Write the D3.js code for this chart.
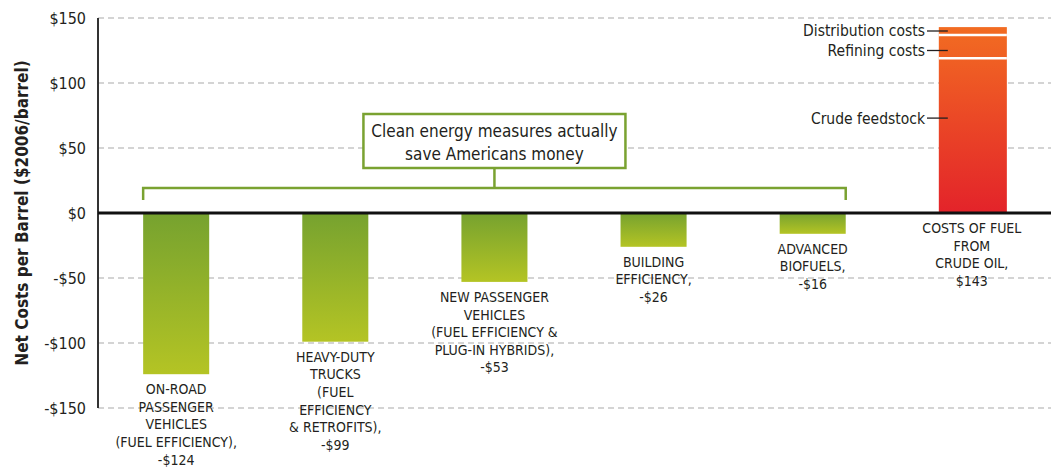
<!DOCTYPE html>
<html><head><meta charset="utf-8">
<script src="https://cdn.jsdelivr.net/npm/d3@7/dist/d3.min.js"></script>
<style>
body{margin:0;background:#fff;}
text{font-family:"Liberation Sans Narrow","DejaVu Sans Condensed","Roboto",sans-serif;fill:#231f20;}
</style></head><body>
<svg id="chart" width="1052" height="476"></svg>
<script>
// ---- data ----
const categories = ["onroad","heavy","newpass","building","biofuels","crude"];
const categoryLabels = [
  ["ON-ROAD","PASSENGER","VEHICLES","(FUEL EFFICIENCY),","-$124"],
  ["HEAVY-DUTY","TRUCKS","(FUEL","EFFICIENCY","& RETROFITS),","-$99"],
  ["NEW PASSENGER","VEHICLES","(FUEL EFFICIENCY &","PLUG-IN HYBRIDS),","-$53"],
  ["BUILDING","EFFICIENCY,","-$26"],
  ["ADVANCED","BIOFUELS,","-$16"],
  ["COSTS OF FUEL","FROM","CRUDE OIL,","$143"]
];
const savingsValues = [-124, -99, -53, -26, -16];
const crudeComponents = ["Crude feedstock","Refining costs","Distribution costs"];
const crudeValues = [119, 18, 6];
const crudeLabelAt = [73, 125, 140];
const yTicks = [-150,-100,-50,0,50,100,150];
const yTickLabels = ["-$150","-$100","-$50","$0","$50","$100","$150"];
const calloutLines = ["Clean energy measures actually","save Americans money"];

// ---- layout ----
const svg = d3.select("#chart");
const axisX = 98, rightX = 1051;
const y = d3.scaleLinear().domain([-150,150]).range([408,18]);
const x = d3.scaleBand().domain(categories).range([97,1051]).paddingInner(0.585).paddingOuter(0.29);

const defs = svg.append("defs");
const gg = defs.append("linearGradient").attr("id","gGreen").attr("x1",0).attr("y1",0).attr("x2",0).attr("y2",1);
gg.append("stop").attr("offset","0%").attr("stop-color","#76a22f");
gg.append("stop").attr("offset","100%").attr("stop-color","#b4c424");
const go = defs.append("linearGradient").attr("id","gOrange").attr("gradientUnits","userSpaceOnUse")
  .attr("x1",0).attr("y1",y(143)).attr("x2",0).attr("y2",y(0));
go.append("stop").attr("offset","0%").attr("stop-color","#f26c22");
go.append("stop").attr("offset","100%").attr("stop-color","#e3232a");

// gridlines
svg.append("g").selectAll("line").data(yTicks.filter(d=>d!==0)).join("line")
  .attr("x1",axisX).attr("x2",rightX).attr("y1",d=>y(d)).attr("y2",d=>y(d))
  .attr("stroke","#aaaaaa").attr("stroke-width",1.2).attr("stroke-dasharray","6,4");

// y tick labels
svg.append("g").selectAll("text").data(yTicks).join("text")
  .attr("x",86).attr("y",d=>y(d)).attr("dy","0.35em").attr("text-anchor","end")
  .attr("font-size",16).text((d,i)=>yTickLabels[i]);

// axis title
svg.append("text").attr("transform",`translate(28,${y(0)}) rotate(-90)`)
  .attr("text-anchor","middle").attr("font-size",17).attr("font-weight","bold")
  .text("Net Costs per Barrel ($2006/barrel)");

// savings bars
svg.append("g").selectAll("rect").data(savingsValues).join("rect")
  .attr("x",(d,i)=>x(categories[i])).attr("width",x.bandwidth())
  .attr("y",y(0)).attr("height",d=>y(d)-y(0)).attr("fill","url(#gGreen)");

// crude stacked bar
const stackStarts = d3.cumsum([0].concat(crudeValues.slice(0,-1)));
const cx = x("crude"), cw = x.bandwidth()+2;
svg.append("g").selectAll("rect").data(crudeValues).join("rect")
  .attr("x",cx).attr("width",cw)
  .attr("y",(d,i)=>y(stackStarts[i]+d)).attr("height",(d)=>y(0)-y(d))
  .attr("fill","url(#gOrange)");
svg.append("g").selectAll("line").data(crudeValues.slice(0,-1)).join("line")
  .attr("x1",cx).attr("x2",cx+cw)
  .attr("y1",(d,i)=>y(stackStarts[i]+d)).attr("y2",(d,i)=>y(stackStarts[i]+d))
  .attr("stroke","#fff").attr("stroke-width",2.5);
// component labels
const lab = svg.append("g").selectAll("g").data(crudeComponents).join("g")
  .attr("transform",(d,i)=>`translate(0,${y(crudeLabelAt[i])})`);
lab.append("line").attr("x1",927).attr("x2",cx+9).attr("stroke","#231f20").attr("stroke-width",1.3);
lab.append("text").attr("x",925).attr("dy","0.35em").attr("text-anchor","end").attr("font-size",15.5).text(d=>d);

// axis line and zero line
svg.append("line").attr("x1",axisX).attr("x2",axisX).attr("y1",y(150)).attr("y2",y(-150))
  .attr("stroke","#333").attr("stroke-width",2);
svg.append("line").attr("x1",axisX).attr("x2",rightX).attr("y1",y(0)).attr("y2",y(0))
  .attr("stroke","#111").attr("stroke-width",3);

// category labels
const allVals = savingsValues.concat([0]);
categories.forEach((c,i)=>{
  const base = allVals[i] < 0 ? y(allVals[i]) : y(0);
  const t = svg.append("text").attr("text-anchor","middle").attr("font-size",14);
  categoryLabels[i].forEach((line,j)=>{
    t.append("tspan").attr("x",x(c)+x.bandwidth()/2).attr("y",base+20+j*17.6).text(line);
  });
});

// callout bracket
const bx1 = x(categories[0]), bx2 = x(categories[4])+x.bandwidth(), by = 188;
const green = "#7aa231";
svg.append("path").attr("d",`M${bx1},${by+12}V${by}H${bx2}V${by+12}`)
  .attr("fill","none").attr("stroke",green).attr("stroke-width",2.5);
const mid = (bx1+bx2)/2;
svg.append("line").attr("x1",mid).attr("x2",mid).attr("y1",168).attr("y2",by).attr("stroke",green).attr("stroke-width",2.5);
svg.append("rect").attr("x",mid-131).attr("y",114).attr("width",262).attr("height",54)
  .attr("fill","#fff").attr("stroke",green).attr("stroke-width",2.5);
svg.append("g").selectAll("text").data(calloutLines).join("text")
  .attr("x",mid).attr("y",(d,i)=>137+i*23).attr("text-anchor","middle").attr("font-size",17).text(d=>d);
</script></body></html>
